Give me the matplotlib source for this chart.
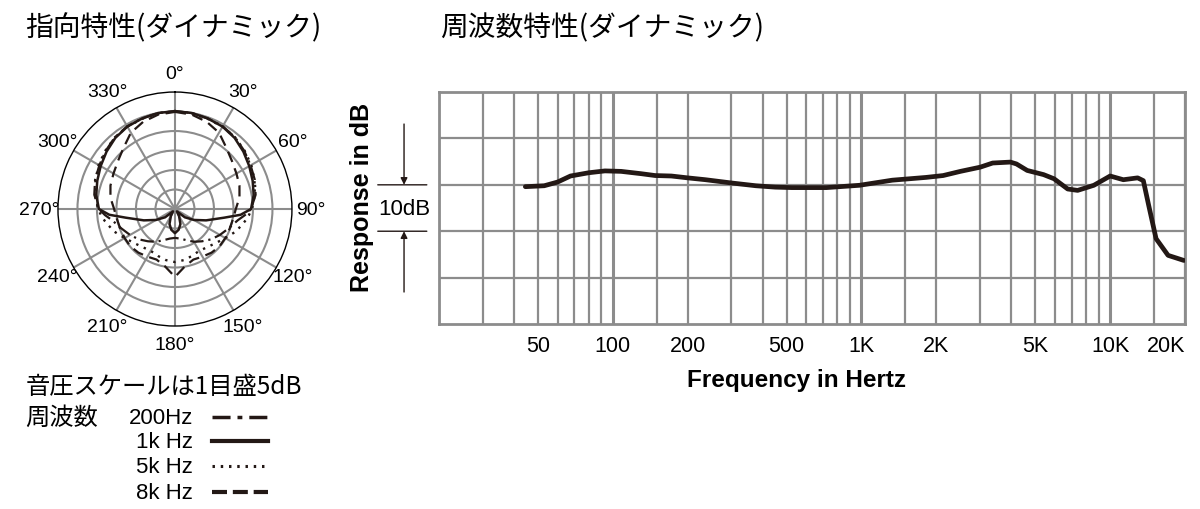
import numpy as np
import matplotlib
matplotlib.use("Agg")
import matplotlib.pyplot as plt
from matplotlib.lines import Line2D

plt.rcParams['font.family'] = ['Noto Sans CJK JP', 'DejaVu Sans']
LATIN = ['Liberation Sans', 'DejaVu Sans']

# polar pattern, half side (0-180 deg), level in dB (center = -30, outer ring = 0)
polar_angles = [0, 10, 20, 30, 40, 50, 60, 70, 80, 90, 95, 100, 110, 120, 130, 140, 150, 160, 170, 180]
db_200 = [-4.9, -5.0, -5.3, -5.5, -6.0, -6.8, -7.6, -8.2, -9.0, -10.5, -12.0, -13.6, -15.4, -16.7, -17.9, -19.2, -20.3, -21.5, -22.3, -22.6]
db_1k = [-4.9, -5.0, -5.3, -5.6, -6.2, -7.1, -8.0, -8.8, -9.5, -10.5, -13.1, -17.2, -21.5, -24.4, -26.7, -29.2, -27.9, -25.9, -24.6, -23.8]
db_5k = [-5.0, -5.1, -5.4, -5.6, -6.0, -6.7, -7.4, -8.3, -9.2, -10.3, -11.0, -11.8, -13.3, -15.1, -16.4, -17.2, -17.6, -17.2, -16.7, -16.4]
db_8k = [-5.1, -5.4, -6.2, -7.4, -9.5, -10.9, -11.8, -12.4, -13.2, -14.4, -14.7, -14.9, -15.1, -15.1, -15.1, -15.4, -15.9, -16.2, -15.1, -12.6]
angle_labels = [0, 30, 60, 90, 120, 150, 180, 210, 240, 270, 300, 330]

# frequency response
freq = [44.5, 53, 60, 67.6, 80, 93, 108, 130, 148, 172, 200, 236, 300, 376, 450, 525, 723, 982,
        1330, 1820, 2130, 2500, 3000, 3370, 3970, 4200, 4640, 5400, 5950, 6750, 7400, 8600,
        10000, 11300, 12900, 13600, 14300, 15300, 17100, 19800]
resp = [-0.4, -0.2, 0.6, 1.9, 2.6, 3.0, 2.9, 2.4, 2.0, 1.9, 1.5, 1.1, 0.4, -0.2, -0.5, -0.6, -0.6, -0.1,
        1.0, 1.6, 2.0, 2.9, 3.8, 4.7, 4.9, 4.5, 3.1, 2.2, 1.3, -0.9, -1.2, -0.1,
        1.9, 1.1, 1.5, 0.9, -4.5, -11.6, -15.2, -16.3]
grid_freqs = [20, 30, 40, 50, 60, 70, 80, 90, 100, 150, 200, 300, 400, 500, 600, 700, 800, 900,
              1000, 1500, 2000, 3000, 4000, 5000, 6000, 7000, 8000, 9000, 10000, 15000, 20000]
bold_freqs = [100, 1000, 10000]
tick_freqs = [50, 100, 200, 500, 1000, 2000, 5000, 10000, 20000]
tick_labels = ['50', '100', '200', '500', '1K', '2K', '5K', '10K', '20K']

legend_names = ['200Hz', '1k Hz', '5k Hz', '8k Hz']

GRID = '#8c8c8c'
INK = '#231815'

fig = plt.figure(figsize=(12, 5.1), dpi=100)


def full_pattern(half_ang, half_db):
    a = np.array(half_ang, dtype=float)
    v = np.array(half_db, dtype=float)
    th = np.concatenate([a, 360 - a[::-1][1:]])
    vals = np.concatenate([v, v[::-1][1:]])
    return np.radians(th), vals


# ---- polar chart ----
ax_p = fig.add_axes([0.0483, 0.3588, 0.195, 0.4588], projection='polar')
ax_p.set_theta_zero_location('N')
ax_p.set_theta_direction(-1)
ax_p.set_ylim(-30, 0)
ax_p.set_rgrids([-25, -20, -15, -10, -5], labels=[])
ax_p.set_thetagrids(range(0, 360, 30), labels=[])
ax_p.grid(True, color=GRID, lw=1.5)
ax_p.spines['polar'].set_color('black')
ax_p.spines['polar'].set_linewidth(1.0)

styles = [
    (db_200, (0, (6, 2.2, 1, 2.2)), 1.6),
    (db_1k, '-', 1.8),
    (db_5k, (0, (1, 2.5)), 1.7),
    (db_8k, (0, (5, 3)), 1.6),
]
for vals, ls, lw in styles:
    th, r = full_pattern(polar_angles, vals)
    ax_p.plot(th, r, color=INK, ls=ls, lw=lw)

for a in angle_labels:
    ax_p.text(np.radians(a), 4.8, f'{a}°', ha='center', va='center', fontsize=14,
              family=LATIN, clip_on=False)

# ---- legend under polar ----
fig.text(0.021, 0.241, '音圧スケールは1目盛5dB', fontsize=17.5, va='center', ha='left')
fig.text(0.021, 0.180, '周波数', fontsize=17.5, va='center', ha='left')
leg_y = [0.180, 0.133, 0.084, 0.033]
leg_style = [((0, (5.2, 2, 1.4, 2)), 2.5), ('-', 3.0), ((0, (0.8, 1.9)), 2.2), ((0, (3.6, 1.4)), 3.0)]
for name, y, (ls, lw) in zip(legend_names, leg_y, leg_style):
    fig.text(0.161, y, name, fontsize=16, va='center', ha='right', family=LATIN)
    fig.add_artist(Line2D([0.1767, 0.2233], [y, y], transform=fig.transFigure,
                          color=INK, ls=ls, lw=lw, dash_capstyle='butt'))

# ---- frequency response ----
ax_f = fig.add_axes([0.3658, 0.3627, 0.6217, 0.4549])
ax_f.set_xscale('log')
ax_f.set_xlim(20, 20000)
ax_f.set_ylim(-30, 20)
for f in grid_freqs:
    ax_f.axvline(f, color=GRID, lw=2.2 if f in bold_freqs else 1.6, zorder=1)
for y in [-20, -10, 0, 10]:
    ax_f.axhline(y, color=GRID, lw=1.6, zorder=1)
for s in ax_f.spines.values():
    s.set_color(GRID)
    s.set_linewidth(2)
ax_f.set_yticks([])
ax_f.set_xticks(tick_freqs)
ax_f.set_xticklabels(tick_labels, fontsize=15.5, family=LATIN)
ax_f.xaxis.get_majorticklabels()[-1].set_horizontalalignment('right')
ax_f.minorticks_off()
ax_f.tick_params(axis='x', length=0, pad=8)
ax_f.plot(freq, resp, color=INK, lw=3.4, solid_capstyle='round', zorder=3)

fig.text(0.664, 0.253, 'Frequency in Hertz', fontsize=17.5, fontweight='bold', ha='center',
         va='center', family=LATIN)
fig.text(0.3017, 0.6137, 'Response in dB', fontsize=18, fontweight='bold', rotation=90,
         ha='center', va='center', family=LATIN)

# 10dB marker
for y in [0, -10]:
    ax_f.annotate('', xy=(0.358, y), xytext=(0.3125, y), xycoords=('figure fraction', 'data'),
                  textcoords=('figure fraction', 'data'),
                  arrowprops=dict(arrowstyle='-', color=INK, lw=1.0))
ax_f.annotate('', xy=(0.3367, 0), xytext=(0.3367, 13.1), xycoords=('figure fraction', 'data'),
              textcoords=('figure fraction', 'data'),
              arrowprops=dict(arrowstyle='-|>', color=INK, lw=1.0, mutation_scale=10, shrinkA=0, shrinkB=0))
ax_f.annotate('', xy=(0.3367, -10), xytext=(0.3367, -23.1), xycoords=('figure fraction', 'data'),
              textcoords=('figure fraction', 'data'),
              arrowprops=dict(arrowstyle='-|>', color=INK, lw=1.0, mutation_scale=10, shrinkA=0, shrinkB=0))
ax_f.annotate('10dB', xy=(0.3367, -5), xycoords=('figure fraction', 'data'), fontsize=16,
              ha='center', va='center', family=LATIN)

# titles
fig.text(0.0208, 0.945, '指向特性(ダイナミック)', fontsize=20, ha='left', va='center')
fig.text(0.3667, 0.945, '周波数特性(ダイナミック)', fontsize=20, ha='left', va='center')

fig.savefig('out.png', dpi=100)
